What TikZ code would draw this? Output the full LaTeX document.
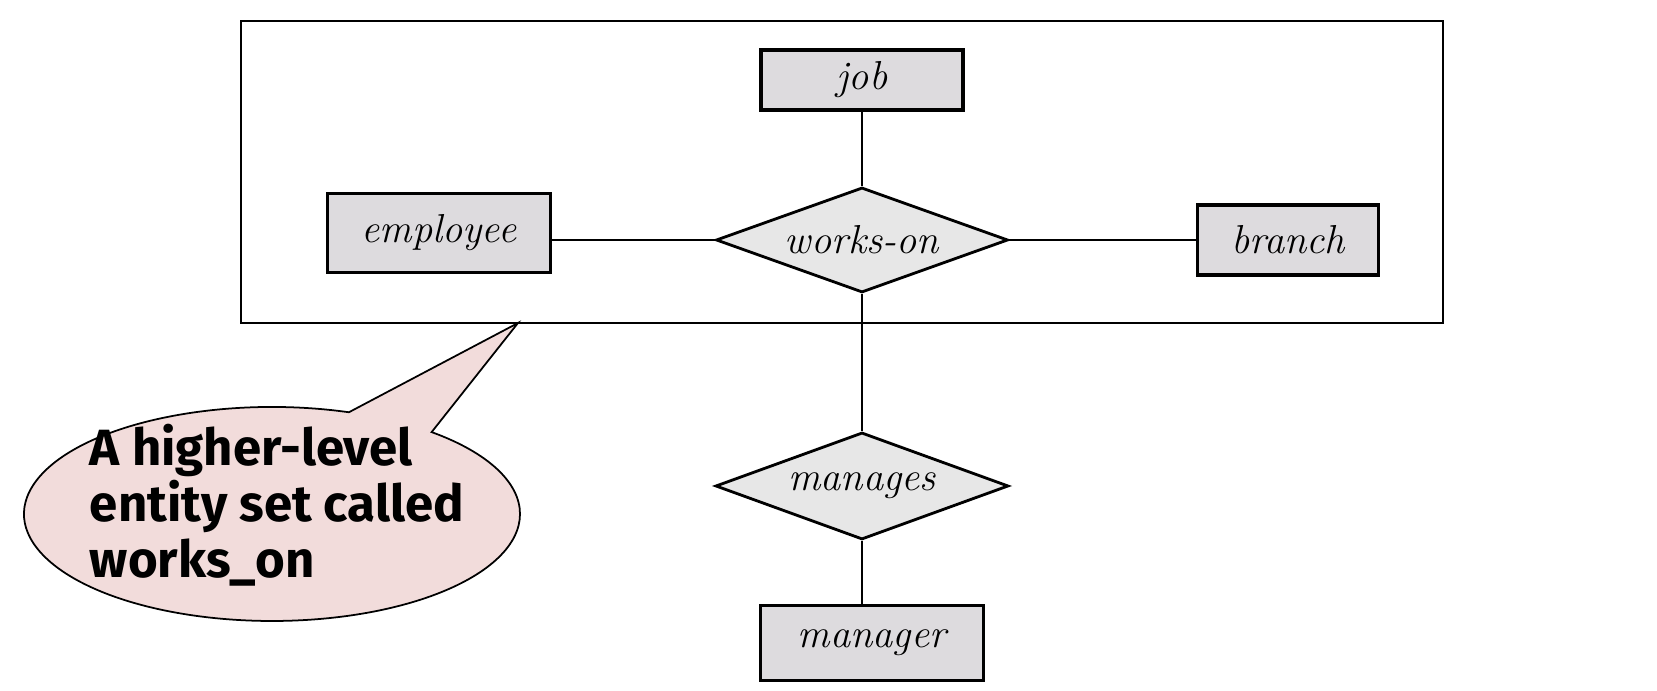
\documentclass[tikz,border=0pt]{standalone}
\usepackage{fontspec}
\newfontfamily\notefont{Fira Sans}
\usetikzlibrary{shapes.geometric,shapes.callouts}
\definecolor{entgray}{HTML}{DDDBDE}
\definecolor{relgray}{HTML}{E7E7E7}
\definecolor{notepink}{HTML}{F2DCDB}
\begin{document}
\begin{tikzpicture}[scale=1,
    entity/.style={rectangle, draw, line width=0.9pt, fill=entgray, inner sep=0pt, font=\fontsize{11.5}{13}\selectfont\itshape},
    relation/.style={diamond, draw, line width=0.8pt, fill=relgray, inner sep=0pt, shape aspect=2.8, minimum width=2.92cm, minimum height=1.05cm, font=\fontsize{11.5}{13}\selectfont\itshape},
    link/.style={line width=0.7pt}]
      \useasboundingbox (0, 0) rectangle (16.57, 6.91);

      % aggregation box
      \node[draw, line width=0.7pt, minimum width=12.02cm, minimum height=3.02cm] (agg) at (8.42, 5.19) {};
      \coordinate (tip) at (5.18, 3.68);

      \node[entity, minimum width=2.02cm, minimum height=0.60cm] (job) at (8.62, 6.11) {job};
      \node[entity, minimum width=2.23cm, minimum height=0.79cm] (employee) at (4.39, 4.58) {employee};
      \node[relation] (workson) at (8.62, 4.51) {works-on};
      \node[entity, minimum width=1.81cm, minimum height=0.70cm] (branch) at (12.88, 4.51) {branch};

      \node[relation, minimum width=2.93cm, minimum height=1.07cm] (manages) at (8.62, 2.05) {manages};
      \node[entity, minimum width=2.23cm, minimum height=0.75cm] (manager) at (8.72, 0.48) {manager};

      \draw[link] (workson.north) -- (job.south);
      \draw[link] (employee.east |- workson.west) -- (workson.west);
      \draw[link] (workson.east) -- (branch.west);
      \draw[link] (workson.south) -- (manages.north);
      \draw[link] (manages.south) -- (manages.south |- manager.north);

      % note
      \node[ellipse callout, draw, line width=0.5pt, fill=notepink, callout absolute pointer={(tip)}, callout pointer arc=22, minimum width=4.96cm, minimum height=2.14cm, inner sep=0pt] (note) at (2.72, 1.77) {};
      \node[align=left, inner sep=0pt, font=\notefont\bfseries\fontsize{14.5}{15.9}\selectfont] (notetext) at (2.77, 1.86) {A higher-level\\entity set called\\works\_on};
    \end{tikzpicture}
\end{document}
